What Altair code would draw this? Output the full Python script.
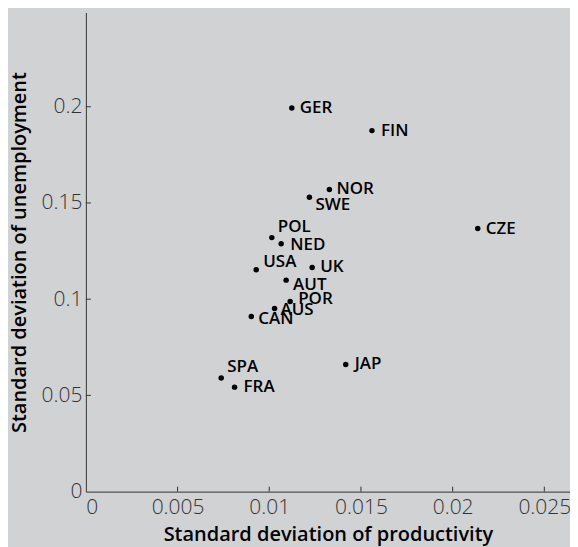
import altair as alt
import pandas as pd

# ---- data ----
countries = ["GER", "FIN", "NOR", "SWE", "CZE", "POL", "NED", "USA",
             "UK", "AUT", "POR", "AUS", "CAN", "SPA", "FRA", "JAP"]
productivity_sd = [0.01123, 0.01560, 0.01328, 0.01219, 0.02137, 0.01014,
                   0.01065, 0.00929, 0.01234, 0.01092, 0.01114, 0.01029,
                   0.00902, 0.00738, 0.00811, 0.01417]
unemployment_sd = [0.1994, 0.1876, 0.1570, 0.1530, 0.1367, 0.1320,
                   0.1288, 0.1153, 0.1165, 0.1099, 0.0988, 0.0952,
                   0.0910, 0.0590, 0.0543, 0.0661]
x_ticks = [0, 0.005, 0.01, 0.015, 0.02, 0.025]
y_ticks = [0, 0.05, 0.1, 0.15, 0.2]
x_title = "Standard deviation of productivity"
y_title = "Standard deviation of unemployment"

# ---- styling ----
LABEL_OFFSETS = {  # pixel offsets of each label from its dot
    "GER": (8, 0), "FIN": (9, 0), "NOR": (7, 0), "SWE": (6, 8),
    "CZE": (8, 0), "POL": (6, -11), "NED": (9, 1.5), "USA": (7, -8),
    "UK": (8, 0), "AUT": (7, 4.5), "POR": (8, -2), "AUS": (6, 1.5),
    "CAN": (7, 3), "SPA": (6, -11), "FRA": (9, 0), "JAP": (9, 0),
}
W, H = 485, 480
BG = "#d1d2d4"
FONT = "Open Sans"
AXIS_COLOR = "#333333"
TICK_LEN = 5

df = pd.DataFrame({"country": countries, "prod": productivity_sd,
                   "unemp": unemployment_sd})
xt = pd.DataFrame({"prod": x_ticks[1:]})
yt = pd.DataFrame({"unemp": y_ticks[1:]})

xs = alt.Scale(domain=[0, 0.0264], nice=False, zero=True)
ys = alt.Scale(domain=[0, 0.249], nice=False, zero=True)

x_axis = alt.Axis(values=x_ticks, format="~g", title=x_title,
                  labelPadding=5, titleY=49, titleBaseline="alphabetic")
y_axis = alt.Axis(values=y_ticks, format="~g", title=y_title,
                  labelPadding=4, titleX=-60, titleY=H / 2,
                  titleAngle=270, titleBaseline="alphabetic")

points = alt.Chart(df).mark_circle(size=30, color="black", opacity=1).encode(
    x=alt.X("prod:Q", scale=xs, axis=x_axis, title=x_title),
    y=alt.Y("unemp:Q", scale=ys, axis=y_axis, title=y_title),
)

# one text layer per distinct label offset
groups = {}
for c in countries:
    groups.setdefault(LABEL_OFFSETS[c], []).append(c)
label_layers = []
for (ddx, ddy), members in groups.items():
    label_layers.append(
        alt.Chart(df).mark_text(
            align="left", baseline="middle", font=FONT, fontSize=17,
            fontWeight=600, color="black", dx=ddx, dy=ddy
        ).encode(
            x=alt.X("prod:Q", scale=xs, title=x_title),
            y=alt.Y("unemp:Q", scale=ys, title=y_title),
            text="country:N",
        ).transform_filter(alt.FieldOneOfPredicate(field="country", oneOf=members))
    )

x_tick_marks = alt.Chart(xt).mark_rule(color=AXIS_COLOR, strokeWidth=1).encode(
    x=alt.X("prod:Q", scale=xs, title=x_title),
    y=alt.value(H),
    y2=alt.value(H - TICK_LEN),
)
y_tick_marks = alt.Chart(yt).mark_rule(color=AXIS_COLOR, strokeWidth=1).encode(
    y=alt.Y("unemp:Q", scale=ys, title=y_title),
    x=alt.value(0),
    x2=alt.value(TICK_LEN),
)

chart = alt.layer(x_tick_marks, y_tick_marks, points, *label_layers).properties(
    width=W, height=H, background=BG,
    autosize=alt.AutoSizeParams(type="none"),
    padding={"left": 78, "top": 4, "right": 0, "bottom": 55},
).configure_view(stroke=None).configure_axis(
    grid=False, ticks=False, tickSize=0,
    domainColor=AXIS_COLOR, domainWidth=1,
    labelFont=FONT, labelFontSize=21, labelFontWeight=300, labelColor="#333333",
    titleFont=FONT, titleFontSize=20, titleFontWeight=600, titleColor="black",
)

chart.save("out.html", embed_options={"renderer": "svg", "actions": False})
